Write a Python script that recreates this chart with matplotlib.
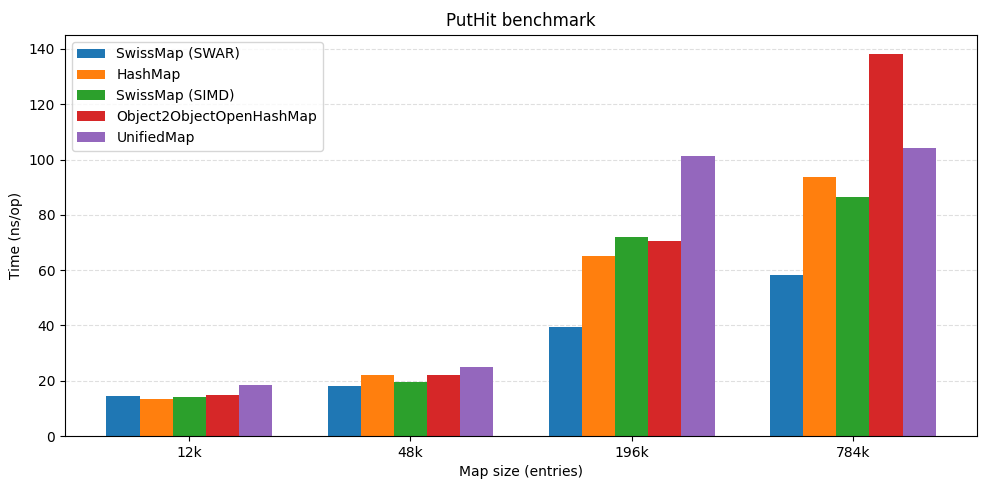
import matplotlib
matplotlib.use('Agg')
import matplotlib.pyplot as plt
import numpy as np

sizes = ['12k', '48k', '196k', '784k']
swiss_swar = [14.5, 18.2, 39.5, 58.4]
hashmap = [13.5, 22.1, 65.2, 93.6]
swiss_simd = [14.2, 19.6, 72.1, 86.5]
obj2obj = [14.9, 22.1, 70.6, 138.2]
unified = [18.5, 25.0, 101.2, 104.0]

series = [
    ('SwissMap (SWAR)', swiss_swar),
    ('HashMap', hashmap),
    ('SwissMap (SIMD)', swiss_simd),
    ('Object2ObjectOpenHashMap', obj2obj),
    ('UnifiedMap', unified),
]

x = np.arange(len(sizes))
width = 0.15

fig, ax = plt.subplots(figsize=(9.89, 4.9), dpi=100)
for i, (name, vals) in enumerate(series):
    ax.bar(x + (i - 2) * width, vals, width, label=name)

ax.set_xticks(x)
ax.set_xticklabels(sizes)
ax.set_xlabel('Map size (entries)')
ax.set_ylabel('Time (ns/op)')
ax.set_title('PutHit benchmark')
ax.grid(axis='y', linestyle='--', alpha=0.4)
ax.set_axisbelow(True)
ax.legend(loc='upper left')
fig.subplots_adjust(left=0.0657, right=0.988, bottom=0.110, top=0.929)
fig.savefig('out.png')
